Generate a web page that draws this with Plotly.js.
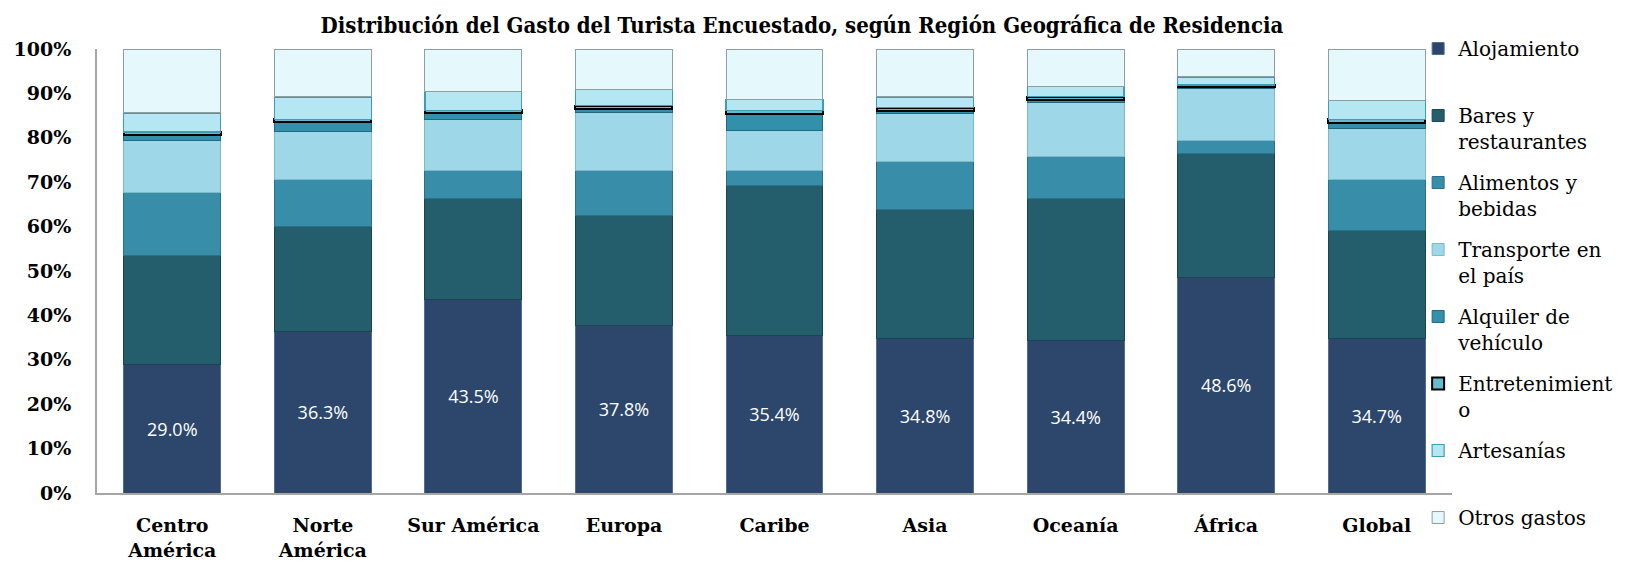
<!DOCTYPE html>
<html>
<head>
<meta charset="utf-8">
<script src="https://cdn.plot.ly/plotly-3.0.1.min.js"></script>
<style>
  html, body { margin: 0; padding: 0; background: #ffffff; overflow: hidden; }
  #chart { width: 1632px; height: 570px; }
</style>
</head>
<body>
<div id="chart"></div>
<script>
const regions = ["Centro<br>América", "Norte<br>América", "Sur América", "Europa", "Caribe", "Asia", "Oceanía", "África", "Global"];

const alojamiento     = [29.0, 36.3, 43.5, 37.8, 35.4, 34.8, 34.4, 48.6, 34.7];
const bares           = [24.6, 23.7, 22.9, 24.8, 33.8, 29.0, 32.0, 27.9, 24.4];
const alimentos       = [14.1, 10.5,  6.3, 10.0,  3.4, 10.9,  9.4,  2.9, 11.4];
const transporte      = [11.8, 11.0, 11.5, 13.0,  9.0, 10.7, 12.2, 11.7, 11.5];
const alquiler        = [ 1.1,  2.1,  1.4,  0.9,  3.8,  0.6,  0.6,  0.3,  1.4];
const entretenimiento = [ 0.7,  0.6,  0.6,  0.7,  0.8,  0.8,  0.7,  0.5,  0.8];
const artesanias      = [ 4.3,  5.0,  4.2,  3.6,  2.5,  2.4,  2.3,  1.8,  4.2];
const otros           = [14.4, 10.8,  9.6,  9.2, 11.3, 10.8,  8.4,  6.3, 11.6];

const yTickVals  = [0, 10, 20, 30, 40, 50, 60, 70, 80, 90, 100];
const yTickText  = ["0%", "10%", "20%", "30%", "40%", "50%", "60%", "70%", "80%", "90%", "100%"];

const seriesNames = ["Alojamiento<br> ", "Bares y<br>restaurantes", "Alimentos y<br>bebidas", "Transporte en<br>el país",
                     "Alquiler de<br>vehículo", "Entretenimient<br>o", "Artesanías<br> ", "Otros gastos<br> "];

const seriesData = [alojamiento, bares, alimentos, transporte, alquiler, entretenimiento, artesanias, otros];
const fills  = ["#2C476B", "#245E6D", "#388DA8", "#9ED8E8", "#3390AA", "#67B9CE", "#B4E7F2", "#E5F8FC"];
const lines  = ["#4F6D96", "#1A4651", "#2A7088", "#7FB9C8", "#1F6A80", "#000000", "#3E9DB5", "#8E9EA2"];
const lineW  = [1, 1, 1, 1, 1, 2, 1.2, 1];

const traces = seriesData.map((vals, i) => {
  const t = {
    type: "bar",
    name: seriesNames[i],
    x: regions,
    y: vals,
    legendgroup: "g" + i,
    marker: { color: fills[i], line: { color: lines[i], width: lineW[i] } },
    hoverinfo: "name+y"
  };
  if (i === 0) {
    t.texttemplate = "%{y:.1f}%";
    t.textposition = "inside";
    t.insidetextanchor = "middle";
    t.textangle = 0;
    t.constraintext = "none";
    t.textfont = { family: "Open Sans, sans-serif", size: 18, color: "#ffffff" };
  } else {
    t.textposition = "none";
  }
  return t;
});

const layout = {
  width: 1632,
  height: 570,
  paper_bgcolor: "#ffffff",
  plot_bgcolor: "#ffffff",
  barmode: "stack",
  bargap: 0.356,
  margin: { l: 97, r: 180, t: 49, b: 77 },
  title: {
    text: "Distribución del Gasto del Turista Encuestado, según Región Geográfica de Residencia",
    font: { family: "DejaVu Serif Condensed, DejaVu Serif, serif", size: 22, color: "#000000", weight: "bold" },
    x: 0.4914, xref: "container", xanchor: "center",
    y: 0.956, yref: "container", yanchor: "middle"
  },
  xaxis: {
    type: "category",
    showline: true,
    linecolor: "#a6a6a6",
    linewidth: 2,
    ticks: "",
    showgrid: false,
    zeroline: false,
    ticklabelstandoff: 14,
    tickfont: { family: "DejaVu Serif, serif", size: 19, color: "#000000", weight: "bold" }
  },
  yaxis: {
    range: [0, 100],
    tickmode: "array",
    tickvals: yTickVals,
    ticktext: yTickText,
    showline: true,
    linecolor: "#a6a6a6",
    linewidth: 2,
    ticks: "",
    showgrid: false,
    zeroline: false,
    ticklabelstandoff: 20,
    tickfont: { family: "DejaVu Serif, serif", size: 19, color: "#000000", weight: "bold" }
  },
  legend: {
    x: 0.975, xanchor: "left", xref: "paper",
    y: 1.045, yanchor: "top", yref: "paper",
    traceorder: "grouped",
    valign: "top",
    tracegroupgap: 12,
    maxheight: 1,
    bgcolor: "rgba(0,0,0,0)",
    font: { family: "DejaVu Serif, serif", size: 20, color: "#000000" }
  },
  showlegend: true
};

Plotly.newPlot("chart", traces, layout, { displayModeBar: false, staticPlot: false });
</script>
</body>
</html>
